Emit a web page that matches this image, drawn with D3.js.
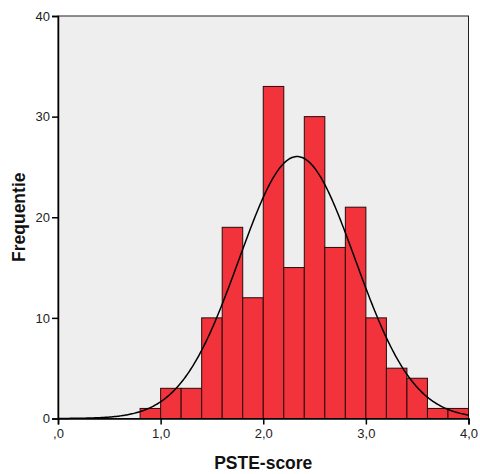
<!DOCTYPE html>
<html>
<head>
<meta charset="utf-8">
<script src="https://cdn.jsdelivr.net/npm/d3@7"></script>
<style>
  body { margin: 0; background: #fff; }
  svg { display: block; font-family: "Liberation Sans", Arial, sans-serif; }
</style>
</head>
<body>
<div id="chart"></div>
<script>
// histogram bins (PSTE-score, bin width 0,2)
const binStarts = [0.8, 1.0, 1.2, 1.4, 1.6, 1.8, 2.0, 2.2, 2.4, 2.6, 2.8, 3.0, 3.2, 3.4, 3.6, 3.8];
const counts = [1, 3, 3, 10, 19, 12, 33, 15, 30, 17, 21, 10, 5, 4, 1, 1];
const binWidth = 0.2;

// fitted normal curve parameters
const mean = 2.33;
const sd = 0.567;
const n = 185;

const xTicks = [0, 1, 2, 3, 4];
const yTicks = [0, 10, 20, 30, 40];

const width = 480;
const height = 474;
const margin = { top: 16, right: 12, bottom: 56, left: 58 };

const svg = d3.select("#chart").append("svg")
  .attr("width", width)
  .attr("height", height);

const x = d3.scaleLinear()
  .domain([0, 4])
  .range([margin.left, width - margin.right + 0.5]);

const y = d3.scaleLinear()
  .domain([0, 40])
  .range([height - margin.bottom + 0.5, margin.top]);

// plot background
svg.append("rect")
  .attr("x", x(0))
  .attr("y", y(40))
  .attr("width", x(4) - x(0))
  .attr("height", y(0) - y(40))
  .attr("fill", "#eeeeee")
  .attr("stroke", "#222")
  .attr("stroke-width", 1);

const bins = binStarts.map((b, i) => ({ x0: b, count: counts[i] }));

svg.append("g")
  .selectAll("rect")
  .data(bins)
  .join("rect")
  .attr("x", d => x(d.x0))
  .attr("y", d => y(d.count))
  .attr("width", d => x(d.x0 + binWidth) - x(d.x0))
  .attr("height", d => y(0) - y(d.count))
  .attr("fill", "#f2333c")
  .attr("stroke", "#2a0a0a")
  .attr("stroke-width", 1);

// normal density scaled to frequencies
const curveX = d3.range(0, 4.0001, 0.01);
const normal = v => n * binWidth / (sd * Math.sqrt(2 * Math.PI)) *
  Math.exp(-((v - mean) ** 2) / (2 * sd * sd));

svg.append("path")
  .datum(curveX)
  .attr("fill", "none")
  .attr("stroke", "#000")
  .attr("stroke-width", 1.5)
  .attr("d", d3.line().x(d => x(d)).y(d => y(normal(d))));

// axes
const fmt = d => d === 0 ? ",0" : d3.format(".1f")(d).replace(".", ",");

svg.append("g")
  .attr("transform", `translate(0,${y(0)})`)
  .call(d3.axisBottom(x).tickValues(xTicks).tickFormat(fmt).tickSize(6).tickPadding(4))
  .call(g => g.select(".domain").attr("stroke-width", 1.5))
  .call(g => g.selectAll(".tick line").attr("stroke-width", 1.5))
  .call(g => g.selectAll("text").attr("font-size", 13).attr("fill", "#222")
    .style("font-family", "Liberation Sans, Arial, sans-serif"));

svg.append("g")
  .attr("transform", `translate(${x(0)},0)`)
  .call(d3.axisLeft(y).tickValues(yTicks).tickSize(6).tickPadding(2))
  .call(g => g.select(".domain").attr("stroke-width", 1.5))
  .call(g => g.selectAll(".tick line").attr("stroke-width", 1.5))
  .call(g => g.selectAll("text").attr("font-size", 13).attr("fill", "#222")
    .style("font-family", "Liberation Sans, Arial, sans-serif"));

// axis titles
svg.append("text")
  .attr("x", (x(0) + x(4)) / 2)
  .attr("y", 469)
  .attr("text-anchor", "middle")
  .attr("font-size", 17.5)
  .attr("font-weight", "bold")
  .attr("fill", "#111")
  .text("PSTE-score");

svg.append("text")
  .attr("transform", `translate(25,${(y(0) + y(40)) / 2}) rotate(-90)`)
  .attr("text-anchor", "middle")
  .attr("font-size", 17.5)
  .attr("font-weight", "bold")
  .attr("fill", "#111")
  .text("Frequentie");
</script>
</body>
</html>
